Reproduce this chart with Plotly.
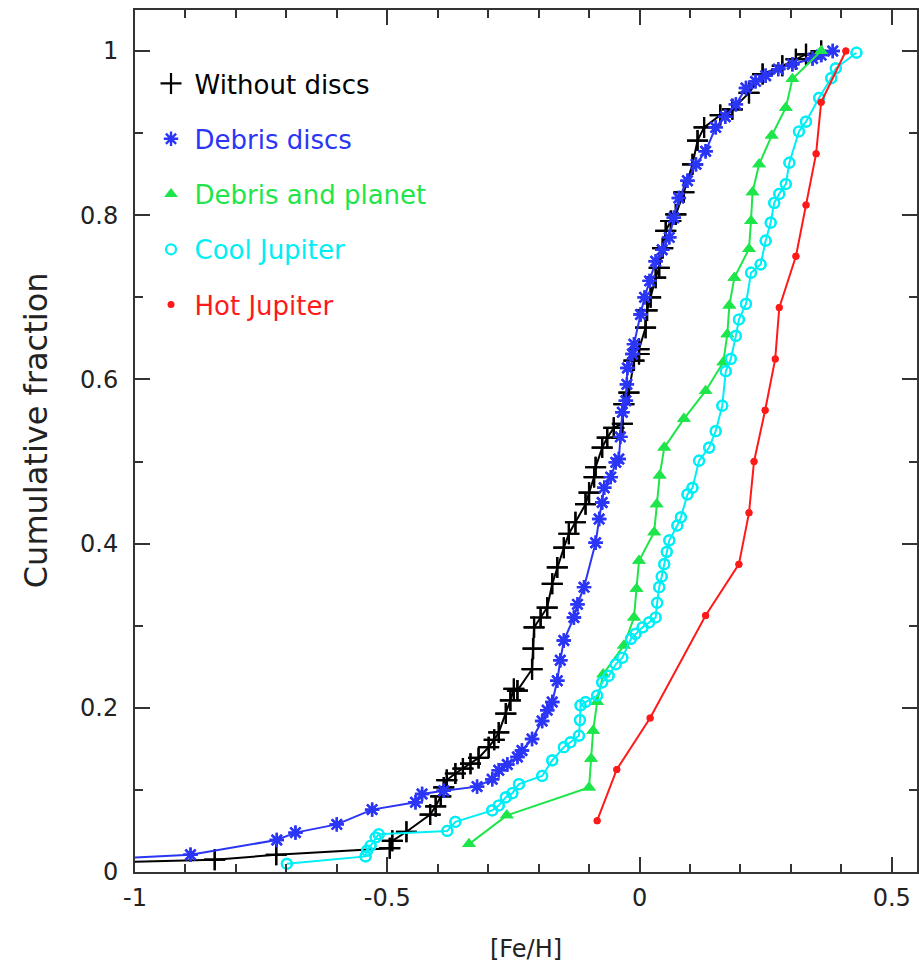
import plotly.graph_objects as go

# ---------------- data ----------------
without_x = [-1.08, -0.842, -0.720, -0.495, -0.490, -0.462, -0.415, -0.404, -0.394, -0.388,
             -0.382, -0.365, -0.350, -0.335, -0.319, -0.299, -0.288, -0.279, -0.265, -0.256,
             -0.249, -0.242, -0.213, -0.211, -0.209, -0.196, -0.183, -0.173, -0.163, -0.150,
             -0.140, -0.127, -0.107, -0.100, -0.090, -0.087, -0.074, -0.064, -0.051, -0.034,
             -0.031, -0.021, -0.011, -0.001, -0.001, 0.012, 0.015, 0.022, 0.032, 0.039,
             0.046, 0.052, 0.062, 0.072, 0.088, 0.105, 0.115, 0.128, 0.160, 0.184,
             0.217, 0.244, 0.283, 0.310, 0.330, 0.360]
without_y = [0.011, 0.015, 0.021, 0.029, 0.038, 0.049, 0.070, 0.080, 0.092, 0.103,
             0.112, 0.120, 0.126, 0.132, 0.139, 0.152, 0.161, 0.170, 0.193, 0.209,
             0.223, 0.221, 0.247, 0.272, 0.298, 0.310, 0.322, 0.351, 0.371, 0.395,
             0.412, 0.426, 0.448, 0.462, 0.481, 0.493, 0.517, 0.529, 0.541, 0.546,
             0.570, 0.584, 0.623, 0.631, 0.637, 0.663, 0.684, 0.700, 0.724, 0.736,
             0.760, 0.781, 0.793, 0.801, 0.828, 0.862, 0.891, 0.907, 0.922, 0.929,
             0.949, 0.972, 0.982, 0.990, 0.996, 1.000]

debris_x = [-1.05, -0.890, -0.719, -0.682, -0.600, -0.530, -0.444, -0.431, -0.388, -0.322,
            -0.292, -0.279, -0.262, -0.242, -0.233, -0.213, -0.193, -0.183, -0.173, -0.163,
            -0.157, -0.150, -0.130, -0.123, -0.110, -0.087, -0.080, -0.074, -0.070, -0.057,
            -0.047, -0.041, -0.038, -0.034, -0.027, -0.025, -0.024, -0.014, -0.011, 0.002,
            0.010, 0.020, 0.032, 0.045, 0.059, 0.068, 0.078, 0.095, 0.112, 0.131,
            0.151, 0.170, 0.191, 0.211, 0.230, 0.250, 0.275, 0.303, 0.343, 0.360, 0.383]
debris_y = [0.016, 0.021, 0.039, 0.048, 0.058, 0.076, 0.085, 0.095, 0.099, 0.104,
            0.113, 0.124, 0.131, 0.140, 0.148, 0.162, 0.184, 0.197, 0.207, 0.233,
            0.258, 0.282, 0.310, 0.326, 0.347, 0.401, 0.430, 0.450, 0.468, 0.481,
            0.499, 0.503, 0.530, 0.560, 0.574, 0.594, 0.614, 0.631, 0.643, 0.679,
            0.700, 0.720, 0.744, 0.758, 0.773, 0.797, 0.821, 0.842, 0.862, 0.878,
            0.907, 0.920, 0.935, 0.955, 0.963, 0.970, 0.978, 0.984, 0.991, 0.995, 1.000]

planet_x = [-0.338, -0.263, -0.100, -0.096, -0.092, -0.084, -0.072, -0.031, -0.011, -0.006,
            -0.001, 0.029, 0.034, 0.040, 0.049, 0.088, 0.131, 0.166, 0.174, 0.178,
            0.188, 0.217, 0.221, 0.224, 0.237, 0.262, 0.290, 0.303, 0.360]
planet_y = [0.034, 0.069, 0.103, 0.138, 0.172, 0.207, 0.241, 0.276, 0.310, 0.345,
            0.379, 0.414, 0.448, 0.483, 0.517, 0.552, 0.586, 0.621, 0.655, 0.690,
            0.724, 0.759, 0.793, 0.828, 0.862, 0.897, 0.931, 0.966, 1.000]

cool_x = [-0.699, -0.543, -0.540, -0.533, -0.523, -0.517, -0.381, -0.365, -0.292, -0.279,
          -0.265, -0.252, -0.239, -0.193, -0.173, -0.150, -0.137, -0.120, -0.118, -0.117,
          -0.107, -0.084, -0.074, -0.061, -0.047, -0.034, -0.017, -0.008, 0.006, 0.019,
          0.032, 0.035, 0.039, 0.044, 0.049, 0.054, 0.059, 0.075, 0.082, 0.095,
          0.105, 0.118, 0.138, 0.151, 0.164, 0.171, 0.181, 0.191, 0.197, 0.211,
          0.221, 0.240, 0.250, 0.260, 0.267, 0.277, 0.290, 0.297, 0.316, 0.330,
          0.356, 0.380, 0.389, 0.430]
cool_y = [0.010, 0.019, 0.026, 0.032, 0.042, 0.046, 0.050, 0.061, 0.075, 0.081,
          0.091, 0.096, 0.107, 0.117, 0.136, 0.152, 0.158, 0.166, 0.185, 0.203,
          0.207, 0.215, 0.231, 0.239, 0.253, 0.261, 0.284, 0.290, 0.298, 0.304,
          0.310, 0.328, 0.347, 0.360, 0.375, 0.390, 0.404, 0.422, 0.432, 0.460,
          0.468, 0.501, 0.517, 0.537, 0.568, 0.610, 0.625, 0.653, 0.673, 0.692,
          0.730, 0.740, 0.769, 0.791, 0.815, 0.826, 0.838, 0.864, 0.902, 0.914,
          0.943, 0.967, 0.979, 0.998]

hot_x = [-0.084, -0.045, 0.021, 0.131, 0.197, 0.217, 0.227, 0.249, 0.269, 0.277,
         0.310, 0.330, 0.350, 0.360, 0.409]
hot_y = [0.0625, 0.125, 0.1875, 0.3125, 0.375, 0.4375, 0.5, 0.5625, 0.625, 0.6875,
         0.75, 0.8125, 0.875, 0.9375, 1.0]

series_names = ["Without discs", "Debris discs", "Debris and planet", "Cool Jupiter", "Hot Jupiter"]
x_tick_vals = [-1, -0.5, 0, 0.5]
x_tick_text = ["-1", "-0.5", "0", "0.5"]
y_tick_vals = [0, 0.2, 0.4, 0.6, 0.8, 1]
y_tick_text = ["0", "0.2", "0.4", "0.6", "0.8", "1"]
x_title = "[Fe/H]"
y_title = "Cumulative fraction"

# ---------------- styles ----------------
FONT = "DejaVu Sans"
styles = [
    dict(color="#000000", symbol="cross-thin", size=15, lw=2.2),
    dict(color="#2b35f5", symbol="asterisk", size=12, lw=2.4),
    dict(color="#1ee64a", symbol="triangle-up", size=12, lw=0),
    dict(color="#00eef5", symbol="circle-open", size=10, lw=2.2),
    dict(color="#ff1a1a", symbol="circle", size=7, lw=0),
]
data = [(without_x, without_y), (debris_x, debris_y), (planet_x, planet_y),
        (cool_x, cool_y), (hot_x, hot_y)]

fig = go.Figure()
for (xs, ys), name, st in zip(data, series_names, styles):
    marker = dict(symbol=st["symbol"], size=st["size"], color=st["color"],
                  line=dict(color=st["color"], width=st["lw"]))
    fig.add_trace(go.Scatter(x=xs, y=ys, mode="lines+markers", showlegend=False,
                             line=dict(color=st["color"], width=2), marker=marker,
                             legendgroup=name))
    fig.add_trace(go.Scatter(x=xs, y=ys, mode="markers", legendgroup=name,
                             name='<span style="color:%s">%s</span>' % (st["color"], name),
                             marker=marker))

axis_common = dict(showline=True, mirror="ticks", linecolor="#333333", linewidth=2,
                   ticks="inside", ticklen=15, tickwidth=2, tickcolor="#333333",
                   showgrid=False, zeroline=False, automargin=False,
                   tickfont=dict(family=FONT, size=24, color="#222222"))

fig.update_xaxes(range=[-1, 0.55], tickmode="array", tickvals=x_tick_vals, ticktext=x_tick_text,
                 minor=dict(dtick=0.1, tick0=0, ticks="inside", ticklen=8, tickwidth=2,
                            tickcolor="#333333"),
                 title=dict(text=x_title, font=dict(family=FONT, size=24, color="#222222"),
                            standoff=29),
                 ticklabelstandoff=3,
                 **axis_common)
fig.update_yaxes(range=[0, 1.05], tickmode="array", tickvals=y_tick_vals, ticktext=y_tick_text,
                 minor=dict(dtick=0.1, tick0=0, ticks="inside", ticklen=8, tickwidth=2,
                            tickcolor="#333333"),
                 ticklabelstandoff=10,
                 **axis_common)

# y-axis title placed as a rotated annotation (it sits above the plot centre in the reference)
fig.add_annotation(text=y_title, xref="paper", yref="paper", x=-0.1266, y=0.5125,
                   xanchor="center", yanchor="middle", textangle=-90, showarrow=False,
                   font=dict(family=FONT, size=32, color="#222222"))

fig.update_layout(
    width=919, height=973,
    margin=dict(l=135, r=2, t=10, b=101),
    paper_bgcolor="white", plot_bgcolor="white",
    showlegend=True,
    legend=dict(x=0.016, y=0.942, xanchor="left", yanchor="top",
                font=dict(family=FONT, size=26), bgcolor="rgba(0,0,0,0)",
                traceorder="grouped", tracegroupgap=18.5, itemsizing="trace",
                itemwidth=37),
)

fig.write_html("out.html", config={"displayModeBar": False},
               post_script="document.body.style.margin='0px';document.body.style.overflow='hidden';")
